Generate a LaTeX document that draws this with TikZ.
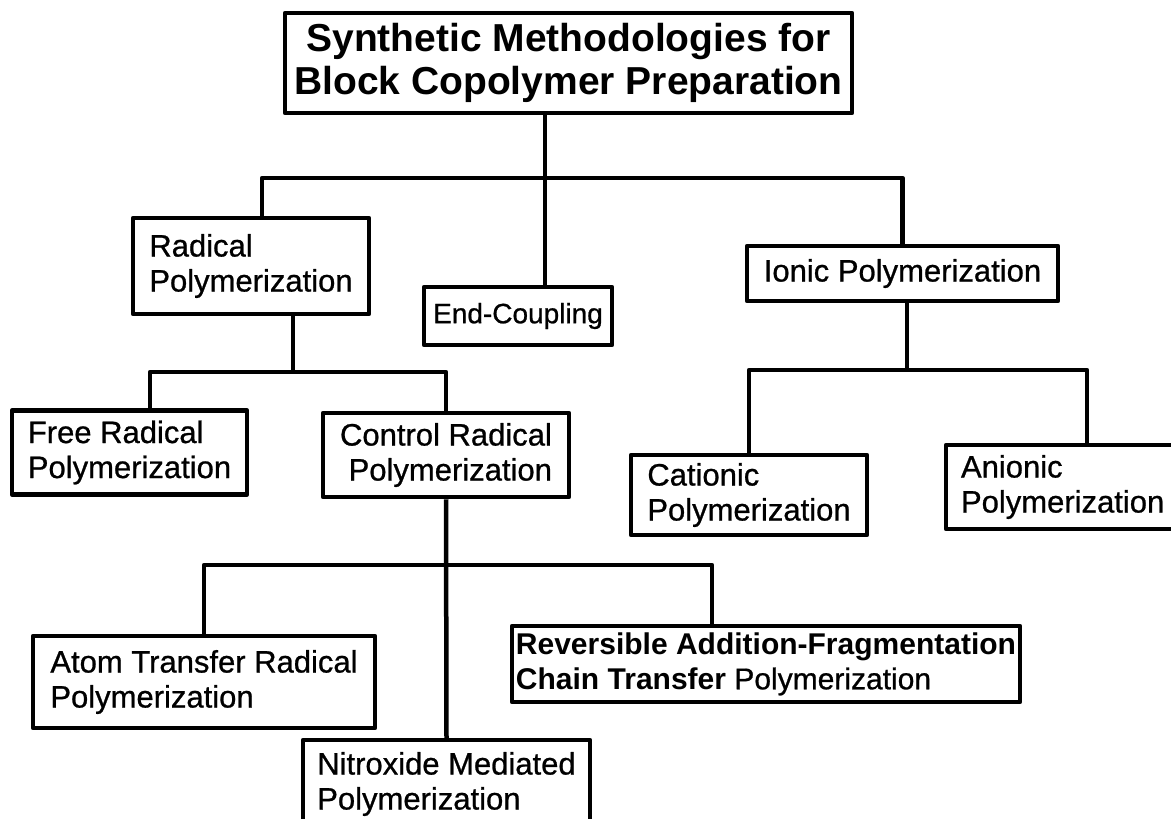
\documentclass[tikz,border=0pt]{standalone}
\usepackage{fontspec}
\setmainfont{Liberation Sans}
\newfontfamily\boxfont{Liberation Sans}[FakeBold=0.8]
\begin{document}
\begin{tikzpicture}[
    x=1pt,y=-1pt,
    box/.style={draw,line width=4.5pt,line join=round,inner sep=0pt,align=left,
      font=\boxfont\fontsize{31}{35}\selectfont},
    headbox/.style={box,align=center,font=\fontsize{39}{43}\selectfont\bfseries},
    link/.style={draw,line width=4.5pt,line join=round}
  ]
  \useasboundingbox (0,0) rectangle (1171,819);
  %% top level
  \node[headbox,minimum width=567,minimum height=100] (title) at (568.5,63)
    {Synthetic Methodologies for\\Block Copolymer Preparation};
  %% first level
  \node[box,minimum width=236,minimum height=96] (radical) at (251,266) {Radical\\Polymerization};
  \node[box,font=\boxfont\fontsize{28}{31}\selectfont,minimum width=188,minimum height=58] (endc) at (518,316) {End-Coupling};
  \node[box,minimum width=311,minimum height=55] (ionic) at (902.5,273.5) {Ionic Polymerization};
  %% second level
  \node[box,minimum width=235,minimum height=84] (freerad) at (129.5,452.5) {Free Radical\\Polymerization};
  \node[box,align=center,minimum width=246,minimum height=84] (ctrlrad) at (446,455) {Control Radical\\\ Polymerization};
  \node[box,minimum width=236,minimum height=80] (cationic) at (749,495) {Cationic\\Polymerization};
  \node[box,text width=220,minimum width=250,minimum height=84] (anionic) at (1071,487) {Anionic\\Polymerization};
  %% third level
  \node[box,minimum width=342,minimum height=92] (atrp) at (204,682) {Atom Transfer Radical\\Polymerization};
  \node[box,font=\fontsize{30}{35}\selectfont,minimum width=508,minimum height=76] (raft) at (766,664)
    {\textbf{Reversible Addition-Fragmentation}\\\textbf{Chain Transfer} {\boxfont Polymerization}};
  \node[box,minimum width=287,minimum height=88] (nitrox) at (446.5,784) {Nitroxide Mediated\\Polymerization};
  %% bus levels and attach points
  \coordinate (bus1) at (0,178);
  \coordinate (bus2) at (0,372);
  \coordinate (bus3) at (0,370);
  \coordinate (bus4) at (0,565);
  \coordinate (rad-out) at ([xshift=42pt]radical.south);
  \coordinate (ion-out) at ([xshift=4.5pt]ionic.south);
  \coordinate (an-in) at ([xshift=16pt]anionic.north);
  \coordinate (raft-in) at ([xshift=-54pt]raft.north);
  %% connectors
  \draw[link] ([xshift=-23.5pt]title.south) -- ([xshift=27pt]endc.north);
  \draw[link] ([xshift=11pt]radical.north) |- (ionic.north |- bus1) -- (ionic.north);
  \draw[link] (rad-out) -- (rad-out |- bus2);
  \draw[link] ([xshift=20.5pt]freerad.north) |- (ctrlrad.north |- bus2) -- (ctrlrad.north);
  \draw[link] (ion-out) -- (ion-out |- bus3);
  \draw[link] (cationic.north) |- (an-in |- bus3) -- (an-in);
  \draw[link] (ctrlrad.south) -- (nitrox.north);
  \draw[link] (atrp.north) |- (raft-in |- bus4) -- (raft-in);
\end{tikzpicture}
\end{document}
